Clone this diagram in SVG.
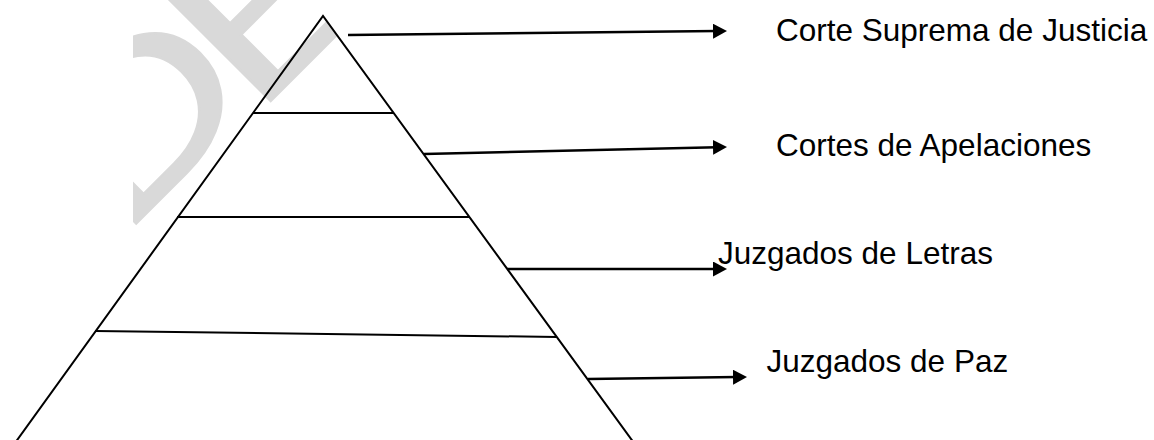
<svg xmlns="http://www.w3.org/2000/svg" width="1154" height="440" viewBox="0 0 1154 440">
  <style>
    .ln { stroke: #000; stroke-width: 2; fill: none; stroke-linecap: butt; }
    .arr { stroke: #000; stroke-width: 2.5; fill: none; }
    .lbl { font-family: "Liberation Sans", Arial, sans-serif; font-size: 31.5px; fill: #000; }
    .wm { font-family: "Liberation Sans", Arial, sans-serif; font-size: 215px; fill: #d9d9d9; stroke: #d9d9d9; stroke-width: 2; }
  </style>
  <defs>
    <marker id="ah" markerUnits="userSpaceOnUse" markerWidth="14" markerHeight="15" refX="4" refY="7.5" orient="auto">
      <path d="M0,0 L14,7.5 L0,15 z" fill="#000"/>
    </marker>
    <clipPath id="wmclip">
      <polygon points="133,0 311.3,0 632.5,440 133,440"/>
    </clipPath>
  </defs>
  <rect width="1154" height="440" fill="#fff"/>
  <g id="watermark" clip-path="url(#wmclip)">
    <text class="wm" transform="translate(120.2,239.8) rotate(-45) scale(1.3,1)">D<tspan dx="-15.5" dy="8.5">E</tspan></text>
  </g>
  <g id="pyramid">
    <path class="ln" d="M15,443 L323,16 L634,443"/>
    <line class="ln" x1="253" y1="113" x2="393" y2="113"/>
    <line class="ln" x1="177" y1="217" x2="469" y2="217"/>
    <line class="ln" x1="95" y1="331" x2="557" y2="337"/>
  </g>
  <g id="connectors">
    <line class="arr" x1="348" y1="35" x2="717" y2="31.1" marker-end="url(#ah)"/>
    <line class="arr" x1="424" y1="154" x2="717" y2="147.2" marker-end="url(#ah)"/>
    <line class="arr" x1="507" y1="269" x2="717" y2="269" marker-end="url(#ah)"/>
    <line class="arr" x1="588" y1="379" x2="737" y2="377.1" marker-end="url(#ah)"/>
  </g>
  <g id="node-corte-suprema"><text class="lbl" x="776" y="40.5">Corte Suprema de Justicia</text></g>
  <g id="node-cortes-apelaciones"><text class="lbl" x="776" y="156">Cortes de Apelaciones</text></g>
  <g id="node-juzgados-letras"><text class="lbl" x="718" y="263.5">Juzgados de Letras</text></g>
  <g id="node-juzgados-paz"><text class="lbl" x="766.5" y="372">Juzgados de Paz</text></g>
</svg>
